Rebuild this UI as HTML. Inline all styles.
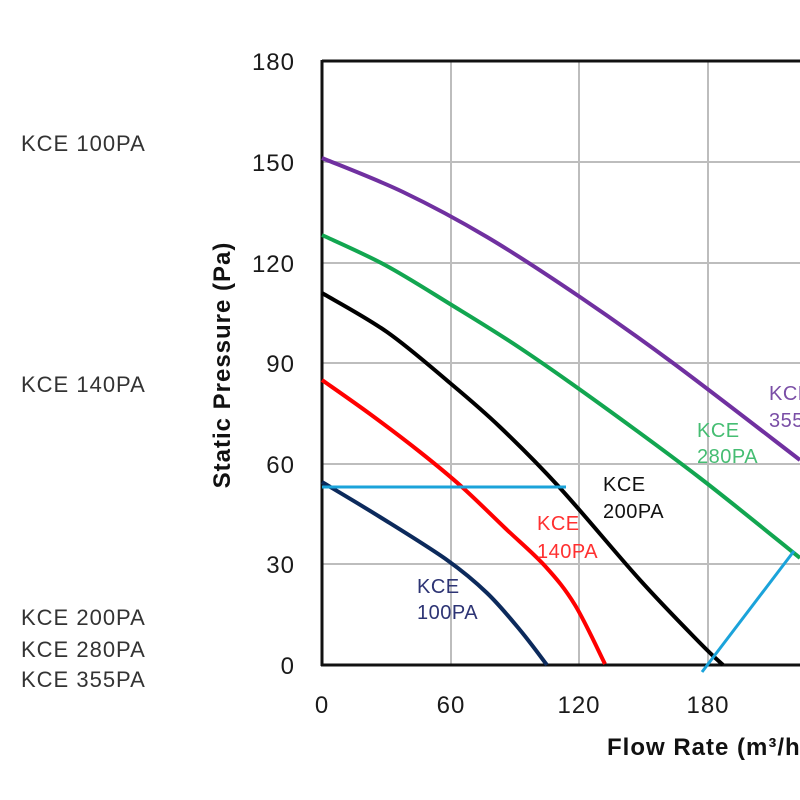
<!DOCTYPE html>
<html><head><meta charset="utf-8"><style>
html,body{margin:0;padding:0;background:#fff;}
svg{display:block;}
</style></head><body>
<svg id="chart" width="800" height="800" viewBox="0 0 800 800" xmlns="http://www.w3.org/2000/svg">
<rect width="800" height="800" fill="#fff"/>
<!-- grid -->
<g stroke="#bdbdbd" stroke-width="2" fill="none">
<line x1="451" y1="61" x2="451" y2="665"/>
<line x1="579" y1="61" x2="579" y2="665"/>
<line x1="708" y1="61" x2="708" y2="665"/>
<line x1="322" y1="162" x2="800" y2="162"/>
<line x1="322" y1="263" x2="800" y2="263"/>
<line x1="322" y1="363" x2="800" y2="363"/>
<line x1="322" y1="464" x2="800" y2="464"/>
<line x1="322" y1="564" x2="800" y2="564"/>
</g>
<!-- axes -->
<g stroke="#111" stroke-width="3" fill="none">
<line x1="322" y1="61" x2="800" y2="61"/>
<line x1="322" y1="60" x2="322" y2="666"/>
<line x1="321" y1="665" x2="800" y2="665"/>
</g>
<!-- curves -->
<g id="curves" fill="none" stroke-width="4" stroke-linejoin="round" stroke-linecap="butt">
<polyline stroke="#7030a0" points="322,158 403,192 487,237 580,297 673,363 800,460"/>
<polyline stroke="#12a650" points="322,235 385,265 450,304 520,348 600,404 700,478 800,558"/>
<polyline stroke="#000" points="322,293 387,332 450,383 500,427 560,488 640,580 700,643 723,665"/>
<polyline stroke="#ff0000" points="322,380 370,414 420,452 462,487 505,528 545,566 575,605 605,664"/>
<polyline stroke="#0c2a5c" points="322,482 380,517 447,560 487,593 520,630 547,665"/>
</g>
<!-- cyan operating lines -->
<g stroke="#1ba3da" stroke-width="3" fill="none">
<line x1="322" y1="487" x2="566" y2="487"/>
<line x1="702" y1="672" x2="794" y2="551"/>
</g>
<!-- tick labels -->
<g font-family="'Liberation Sans', Arial, sans-serif" font-size="24" fill="#1a1a1a" letter-spacing="1">
<text x="295" y="70" text-anchor="end">180</text>
<text x="295" y="171" text-anchor="end">150</text>
<text x="295" y="272" text-anchor="end">120</text>
<text x="295" y="372" text-anchor="end">90</text>
<text x="295" y="473" text-anchor="end">60</text>
<text x="295" y="573" text-anchor="end">30</text>
<text x="295" y="674" text-anchor="end">0</text>
<text x="322" y="713" text-anchor="middle">0</text>
<text x="451" y="713" text-anchor="middle">60</text>
<text x="579" y="713" text-anchor="middle">120</text>
<text x="708" y="713" text-anchor="middle">180</text>
</g>
<!-- axis titles -->
<g font-family="'Liberation Sans', Arial, sans-serif" font-size="24" font-weight="bold" fill="#111" letter-spacing="1">
<text transform="translate(230,365) rotate(-90)" text-anchor="middle">Static Pressure (Pa)</text>
<text x="607" y="755">Flow Rate (m³/h)</text>
</g>
<!-- left legend text -->
<g font-family="'Liberation Sans', Arial, sans-serif" font-size="22" fill="#333" letter-spacing="1">
<text x="21" y="151">KCE 100PA</text>
<text x="21" y="392">KCE 140PA</text>
<text x="21" y="625">KCE 200PA</text>
<text x="21" y="657">KCE 280PA</text>
<text x="21" y="687">KCE 355PA</text>
</g>
<!-- curve labels -->
<g font-family="'Liberation Sans', Arial, sans-serif" font-size="20" letter-spacing="0.5">
<text x="417" y="593" fill="#2d3474">KCE</text>
<text x="417" y="619" fill="#2d3474">100PA</text>
<text x="537" y="530" fill="#ff3030">KCE</text>
<text x="537" y="558" fill="#ff3030">140PA</text>
<text x="603" y="491" fill="#111">KCE</text>
<text x="603" y="518" fill="#111">200PA</text>
<text x="697" y="437" fill="#45bd72">KCE</text>
<text x="697" y="463" fill="#45bd72">280PA</text>
<text x="769" y="400" fill="#7a4ea6">KCE</text>
<text x="769" y="427" fill="#7a4ea6">355PA</text>
</g>
</svg>
<script>
(function(){
  var ns="http://www.w3.org/2000/svg";
  var polys=document.querySelectorAll('#curves polyline');
  for(var k=0;k<polys.length;k++){
    var pl=polys[k];
    var pts=pl.getAttribute('points').trim().split(/\s+/).map(function(s){var a=s.split(',');return [parseFloat(a[0]),parseFloat(a[1])];});
    var d='M'+pts[0][0]+','+pts[0][1];
    for(var i=0;i<pts.length-1;i++){
      var p0=pts[i-1]||pts[i], p1=pts[i], p2=pts[i+1], p3=pts[i+2]||pts[i+1];
      var c1x=p1[0]+(p2[0]-p0[0])/6, c1y=p1[1]+(p2[1]-p0[1])/6;
      var c2x=p2[0]-(p3[0]-p1[0])/6, c2y=p2[1]-(p3[1]-p1[1])/6;
      d+=' C'+c1x.toFixed(2)+','+c1y.toFixed(2)+' '+c2x.toFixed(2)+','+c2y.toFixed(2)+' '+p2[0]+','+p2[1];
    }
    var path=document.createElementNS(ns,'path');
    path.setAttribute('d',d);
    path.setAttribute('stroke',pl.getAttribute('stroke'));
    pl.parentNode.replaceChild(path,pl);
  }
})();
</script>
</body></html>
